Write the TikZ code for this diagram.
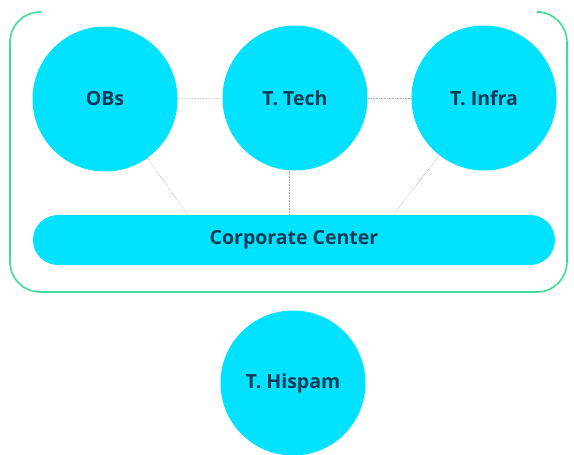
\documentclass[tikz,border=0pt]{standalone}
\usepackage{fontspec}
\setmainfont{Open Sans}
\usetikzlibrary{calc, positioning, backgrounds}
\definecolor{mainCyan}{HTML}{00E2FF}
\definecolor{textNavy}{HTML}{0B3A55}
\definecolor{frameGreen}{HTML}{3FDD9B}
\definecolor{lineGray}{gray}{0.65}

\begin{document}
\begin{tikzpicture}[x=1pt, y=-1pt, >=stealth,
    unit/.style={circle, fill=mainCyan, minimum size=145pt, inner sep=0pt,
        text=textNavy, font=\fontsize{19.5}{22}\selectfont\bfseries},
    link/.style={lineGray, densely dotted, line width=0.6pt}]
    \useasboundingbox (0,0) rectangle (574,455);

    % Frame (open at the top)
    \draw[frameGreen, line width=1.6pt, rounded corners=30]
        (41,12) -- (10,12) -- (10,292) -- (567,292) -- (567,12) -- (541,12);

    % Units
    \node[unit] (obs) at (105,99) {OBs};
    \node[unit] (tech) at (295,98) {T. Tech};
    \node[unit] (infra) at (484,98) {T. Infra};
    \node[unit] (hispam) at (293,383) {T. Hispam};

    \node[fill=mainCyan, rounded corners=25pt, minimum width=522pt, minimum height=50pt,
        text=textNavy, font=\fontsize{19.5}{22}\selectfont\bfseries] (cc) at (294,240) {Corporate Center};

    % Links
    \coordinate (ccL) at (188,215);
    \coordinate (ccM) at (289,215);
    \coordinate (ccR) at (393,215);
    \begin{scope}[on background layer]
        \draw[link] (obs) -- (tech);
        \draw[link] (tech) -- (infra);
        \draw[link] (obs) -- (ccL);
        \draw[link] (tech.south -| ccM) -- (ccM);
        \draw[link] (infra) -- (ccR);
    \end{scope}
\end{tikzpicture}
\end{document}
